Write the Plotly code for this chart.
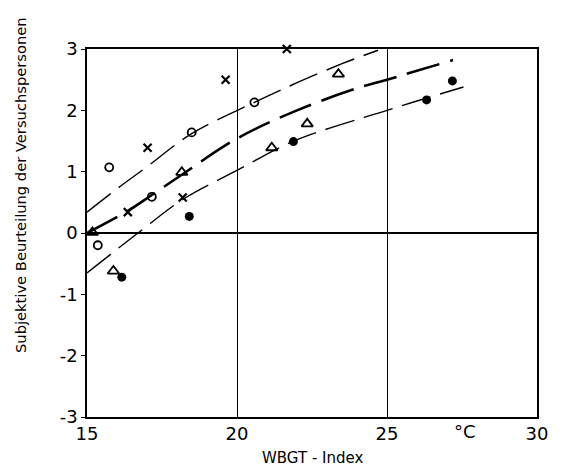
import plotly.graph_objects as go

# Data
cross_x = [16.36, 17.02, 18.19, 19.62, 21.66]
cross_y = [0.34, 1.39, 0.58, 2.50, 3.00]

ocircle_x = [15.36, 15.74, 17.16, 18.49, 20.58]
ocircle_y = [-0.20, 1.07, 0.59, 1.64, 2.13]

tri_x = [15.18, 15.88, 18.16, 21.16, 22.34, 23.38]
tri_y = [0.01, -0.62, 0.99, 1.39, 1.78, 2.59]

fcircle_x = [16.16, 18.41, 21.88, 26.32, 27.18]
fcircle_y = [-0.72, 0.27, 1.49, 2.17, 2.48]

upper_x = [15, 16, 17, 18.49, 20.58, 22, 23.5, 24.7]
upper_y = [0.34, 0.72, 1.08, 1.62, 2.13, 2.45, 2.76, 2.98]

mid_x = [15, 16.36, 17.16, 18.16, 20, 22, 24, 25, 27.2]
mid_y = [0.0, 0.36, 0.62, 0.95, 1.54, 2.0, 2.36, 2.5, 2.82]

low_x = [15, 16.7, 18.2, 20, 21.9, 25, 26.32, 27.55]
low_y = [-0.65, 0.0, 0.55, 1.02, 1.5, 2.0, 2.2, 2.38]

x_ticks = [15, 20, 25, 30]
y_ticks = [-3, -2, -1, 0, 1, 2, 3]

FONT = "DejaVu Sans"

fig = go.Figure()

for xs, ys, w, dash in [
    (upper_x, upper_y, 1.4, "30px,10px"),
    (mid_x, mid_y, 2.6, "34px,11px"),
    (low_x, low_y, 1.4, "30px,10px"),
]:
    fig.add_trace(go.Scatter(x=xs, y=ys, mode="lines",
                             line=dict(color="black", width=w, dash=dash, shape="spline", smoothing=1.0),
                             hoverinfo="skip", showlegend=False))

fig.add_trace(go.Scatter(x=cross_x, y=cross_y, mode="markers",
                         marker=dict(symbol="x-thin", size=8, line=dict(color="black", width=2.2)),
                         showlegend=False, cliponaxis=False))
fig.add_trace(go.Scatter(x=ocircle_x, y=ocircle_y, mode="markers",
                         marker=dict(symbol="circle-open", size=8, color="black", line=dict(width=1.8)),
                         showlegend=False))
fig.add_trace(go.Scatter(x=tri_x, y=tri_y, mode="markers",
                         marker=dict(symbol="triangle-up-open", size=10, color="black", line=dict(width=1.8)),
                         showlegend=False))
fig.add_trace(go.Scatter(x=fcircle_x, y=fcircle_y, mode="markers",
                         marker=dict(symbol="circle", size=9, color="black"),
                         showlegend=False))

# zero line
fig.add_shape(type="line", xref="x", yref="y", x0=15, x1=30, y0=0, y1=0,
              line=dict(color="black", width=2))

fig.update_xaxes(range=[15, 30], tickvals=x_ticks, ticktext=[str(v) for v in x_ticks],
                 showgrid=True, gridcolor="black", gridwidth=1.2,
                 showline=True, linecolor="black", linewidth=1.5, mirror=True,
                 zeroline=False, ticks="", tickfont=dict(family=FONT, size=18, color="black"))
fig.update_yaxes(range=[-3, 3], tickvals=y_ticks, ticktext=["-3", "-2", "-1", "0", "1", "2", "3"],
                 showgrid=False, showline=True, linecolor="black", linewidth=1.5, mirror=True,
                 zeroline=False, ticks="outside", ticklen=4, tickcolor="black",
                 tickfont=dict(family=FONT, size=18, color="black"))

fig.add_annotation(x=27.6, y=0, xref="x", yref="paper", text="°C", showarrow=False,
                   yanchor="top", yshift=-2, font=dict(family=FONT, size=18, color="black"))
fig.add_annotation(x=0.5, y=0, xref="paper", yref="paper", text="WBGT - Index", showarrow=False,
                   yanchor="top", yshift=-30, font=dict(family=FONT, size=15, color="black"))
fig.add_annotation(x=0, y=0.5, xref="paper", yref="paper", xanchor="center", yanchor="middle",
                   xshift=-67, yshift=48, textangle=-90,
                   text="Subjektive Beurteilung der Versuchspersonen", showarrow=False,
                   font=dict(family=FONT, size=14.7, color="black"))

fig.update_layout(width=563, height=468, margin=dict(l=79, r=34, t=41, b=59),
                  plot_bgcolor="white", paper_bgcolor="white")

fig.write_html("out.html")
